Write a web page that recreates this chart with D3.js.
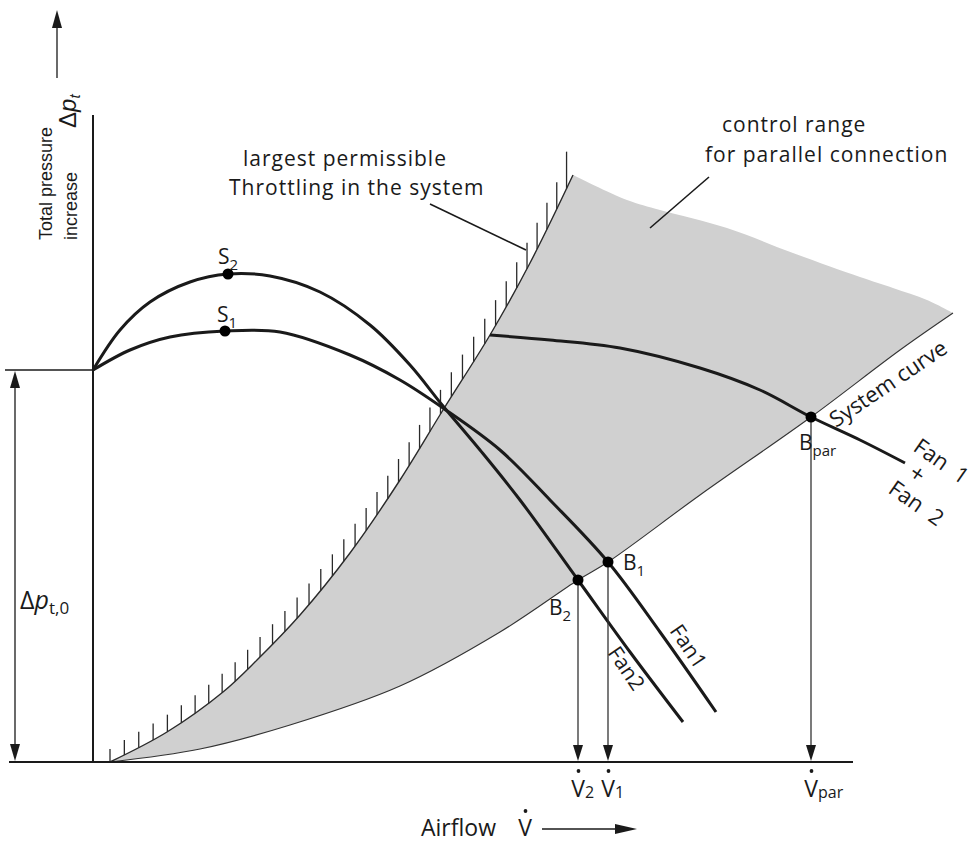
<!DOCTYPE html>
<html><head><meta charset="utf-8">
<script src="https://cdn.jsdelivr.net/npm/d3@7"></script>
<style>html,body{margin:0;padding:0;background:#fff}svg{display:block}</style>
</head><body>
<svg id="chart" width="980" height="842"></svg>
<script>
// ---- data (relative units: flow on x, pressure on y) ----
const fan1 = [[0,39.2],[3.7,41.2],[7.7,42.5],[13.2,43.1],[18.7,43.0],[25.7,40.7],[30.7,38.2],[35.0,35.4],[40.7,31.2],[45.7,26.2],[51.5,20.0],[56.7,13.0],[62.3,5.0]];
const fan2 = [[0,39.2],[2.7,43.2],[5.7,46.0],[9.7,48.0],[13.5,48.8],[17.7,48.6],[22.7,47.0],[27.7,43.7],[31.7,39.7],[35.0,35.6],[38.7,31.2],[42.7,26.2],[48.5,18.2],[53.7,11.0],[59.0,4.0]];
const fanPar = [[39.7,42.7],[45.7,42.2],[52.7,41.4],[60.7,39.4],[66.7,37.2],[71.8,34.5],[76.7,32.2],[81.2,29.9]];
const systemCurve = [[1.7,0],[10.7,1.3],[19.7,3.7],[30.7,7.6],[40.7,13.0],[48.5,18.2],[51.5,20.0],[60.7,26.7],[71.8,34.5],[80.7,41.2],[86.0,44.9]];
const throttleCurve = [[1.7,0],[7.4,3.0],[13.0,7.0],[16.4,10.2],[20.7,14.7],[25.7,20.9],[30.7,28.2],[35.0,35.2],[39.7,42.7],[43.7,49.9],[48.0,58.7]];
const controlTop = [[48.0,58.7],[53.4,56.2],[56.7,55.2],[63.4,53.4],[70.0,50.9],[76.7,48.5],[80.0,47.4],[83.4,46.2],[86.0,44.9]];
const surgePoints = [{name:"S",sub:"2",x:13.5,y:48.8,dx:-10,dy:-10},{name:"S",sub:"1",x:13.2,y:43.1,dx:-8,dy:-9}];
const opPoints = [{name:"B",sub:"1",x:51.5,y:20.0,dx:15,dy:8,v:"1"},{name:"B",sub:"2",x:48.5,y:18.2,dx:-29,dy:35,v:"2"},{name:"B",sub:"par",x:71.8,y:34.5,dx:-12,dy:33,v:"par"}];
const shutoffPressure = 39.2;

const svg = d3.select("#chart");
const x = d3.scaleLinear().domain([0, 88]).range([93, 973]);
const y = d3.scaleLinear().domain([0, 70]).range([762, 62]);
const FONT = "'Open Sans', 'Noto Sans', sans-serif";
const INK = "#1a1a1a";

const line = d3.line().x(d => x(d[0])).y(d => y(d[1])).curve(d3.curveCatmullRom.alpha(0.5));

function arrowHead(tx, ty, dx, dy, len, hw) {
  const bx = tx - dx * len, by = ty - dy * len, px = -dy, py = dx;
  svg.append("path").attr("d", `M${tx},${ty}L${bx + px * hw},${by + py * hw}L${bx - px * hw},${by - py * hw}Z`).attr("fill", INK);
}

// ---- shaded control range ----
const segA = line(throttleCurve);
const segB = line(controlTop).replace(/^M/, "L");
const segC = line(systemCurve.slice().reverse()).replace(/^M/, "L");
svg.append("path").attr("d", segA + segB + segC + "Z").attr("fill", "#d0d0d0").attr("stroke", "none");

// system curve edge
svg.append("path").attr("d", line(systemCurve)).attr("fill", "none").attr("stroke", "#333").attr("stroke-width", 1.1);

// throttle curve + hatches
const thr = svg.append("path").attr("d", line(throttleCurve)).attr("fill", "none").attr("stroke", "#2a2a2a").attr("stroke-width", 1.4);
const tn = thr.node(), L = tn.getTotalLength();
const hatch = svg.append("g").attr("stroke", "#2a2a2a").attr("stroke-width", 1.3);
for (let s = 0; s <= L; ) {
  const p = tn.getPointAtLength(s);
  const f = s / L;
  const len = 13 + 14 * Math.sqrt(f) + (f > 0.97 ? 10 : 0);
  hatch.append("line").attr("x1", p.x).attr("y1", p.y).attr("x2", p.x).attr("y2", p.y - len);
  s += 16 + 7 * f;
}

// ---- axes ----
const axis = svg.append("g").attr("stroke", INK).attr("stroke-width", 2).attr("fill", "none");
axis.append("line").attr("x1", x(0)).attr("x2", x(0)).attr("y1", y(0)).attr("y2", 115);
axis.append("line").attr("x1", 9).attr("x2", 853).attr("y1", y(0)).attr("y2", y(0));
axis.append("line").attr("x1", 5).attr("x2", x(0)).attr("y1", y(shutoffPressure)).attr("y2", y(shutoffPressure)).attr("stroke-width", 1.5);
axis.append("line").attr("x1", 15).attr("x2", 15).attr("y1", y(shutoffPressure) + 12).attr("y2", y(0) - 12).attr("stroke-width", 1.3);
arrowHead(15, y(shutoffPressure) + 1, 0, -1, 17, 5);
arrowHead(15, y(0) - 1, 0, 1, 17, 5);
axis.append("line").attr("x1", 57).attr("x2", 57).attr("y1", 78).attr("y2", 24).attr("stroke-width", 1.3);
arrowHead(57, 10, 0, -1, 18, 5);
axis.append("line").attr("x1", 542).attr("x2", 624).attr("y1", 829).attr("y2", 829).attr("stroke-width", 1.3);
arrowHead(637, 829, 1, 0, 22, 5);

// ---- fan curves ----
const curves = svg.append("g").attr("fill", "none").attr("stroke", INK).attr("stroke-width", 3);
curves.append("path").attr("d", line(fan1));
curves.append("path").attr("d", line(fan2));
curves.append("path").attr("d", line(fanPar));

// ---- drop lines to the flow axis ----
opPoints.forEach(p => {
  svg.append("line").attr("x1", x(p.x)).attr("x2", x(p.x)).attr("y1", y(p.y)).attr("y2", y(0) - 12).attr("stroke", "#333").attr("stroke-width", 1.3);
  arrowHead(x(p.x), y(0) - 1, 0, 1, 16, 5);
});

// ---- points & labels ----
function subLabel(px, py, main, sub, size, subSize, subDy) {
  const t = svg.append("text").attr("x", px).attr("y", py).attr("font-family", FONT).attr("font-size", size).attr("fill", INK);
  t.append("tspan").text(main);
  t.append("tspan").attr("font-size", subSize).attr("dy", subDy).text(sub);
  return t;
}
surgePoints.concat(opPoints).forEach(p => {
  svg.append("circle").attr("cx", x(p.x)).attr("cy", y(p.y)).attr("r", 5.5).attr("fill", "#000");
  subLabel(x(p.x) + p.dx, y(p.y) + p.dy, p.name, p.sub, 21, 15, 6);
});
opPoints.forEach(p => {
  const cx = x(p.x);
  svg.append("text").attr("x", cx).attr("y", 797).attr("text-anchor", "middle").attr("font-family", FONT).attr("font-size", 23).attr("fill", INK).text("V");
  svg.append("circle").attr("cx", cx + 0.5).attr("cy", 771).attr("r", 1.9).attr("fill", INK);
  svg.append("text").attr("x", cx + 7).attr("y", 798).attr("font-family", FONT).attr("font-size", 16).attr("fill", INK).text(p.v);
});

// ---- axis titles ----
svg.append("text").attr("x", 421).attr("y", 836).attr("font-family", FONT).attr("font-size", 23).attr("fill", INK).text("Airflow");
svg.append("text").attr("x", 525).attr("y", 836).attr("text-anchor", "middle").attr("font-family", FONT).attr("font-size", 23).attr("fill", INK).text("V");
svg.append("circle").attr("cx", 525.5).attr("cy", 811).attr("r", 1.9).attr("fill", INK);

const yl = "'Liberation Sans Narrow', 'Liberation Sans', Arial, sans-serif";
svg.append("text").attr("transform", "translate(52,240) rotate(-90)").attr("font-family", yl).attr("font-size", 18).attr("fill", INK).text("Total pressure");
svg.append("text").attr("transform", "translate(77,240) rotate(-90)").attr("font-family", yl).attr("font-size", 18).attr("fill", INK).text("increase");
const dpt = svg.append("text").attr("transform", "translate(76,128) rotate(-90)").attr("font-family", "'Liberation Sans', Arial, sans-serif").attr("font-size", 24).attr("fill", INK);
dpt.append("tspan").text("Δ");
dpt.append("tspan").attr("font-style", "italic").text("p");
dpt.append("tspan").attr("font-style", "italic").attr("font-size", 15).attr("dy", 4).text("t");

const dp0 = svg.append("text").attr("x", 20).attr("y", 609).attr("font-family", FONT).attr("font-size", 25).attr("fill", INK);
dp0.append("tspan").text("Δ");
dp0.append("tspan").attr("font-style", "italic").text("p");
dp0.append("tspan").attr("font-size", 17).attr("dy", 5).text("t,0");

// ---- annotations ----
function txt(xp, yp, s, size, ls) {
  return svg.append("text").attr("x", xp).attr("y", yp).attr("font-family", FONT).attr("font-size", size).attr("letter-spacing", ls || 0).attr("fill", INK).style("white-space", "pre").text(s);
}
txt(243, 166, "largest permissible", 21, 1);
txt(229, 195, "Throttling in the system", 21, 1);
svg.append("line").attr("x1", 430).attr("y1", 204).attr("x2", 526).attr("y2", 250).attr("stroke", INK).attr("stroke-width", 1.6);
txt(722, 132, "control range", 21, 1);
txt(705, 162, "for parallel connection", 21, 1);
svg.append("line").attr("x1", 650).attr("y1", 228).attr("x2", 709).attr("y2", 177).attr("stroke", INK).attr("stroke-width", 1.6);

svg.append("text").attr("transform", "translate(836,428) rotate(-34)").attr("font-family", FONT).attr("font-size", 22).attr("fill", INK).text("System curve");
svg.append("text").attr("transform", "translate(912,450) rotate(35)").attr("font-family", FONT).attr("font-size", 22).attr("fill", INK).style("white-space", "pre").text("Fan  1");
svg.append("text").attr("transform", "translate(918,473) rotate(35)").attr("text-anchor", "middle").attr("dominant-baseline", "central").attr("font-family", FONT).attr("font-size", 24).attr("fill", INK).text("+");
svg.append("text").attr("transform", "translate(887,492) rotate(35)").attr("font-family", FONT).attr("font-size", 22).attr("fill", INK).style("white-space", "pre").text("Fan  2");
svg.append("text").attr("transform", "translate(689,646) rotate(56)").attr("text-anchor", "middle").attr("dominant-baseline", "central").attr("font-family", FONT).attr("font-size", 21).attr("fill", INK).text("Fan1");
svg.append("text").attr("transform", "translate(627,668) rotate(56)").attr("text-anchor", "middle").attr("dominant-baseline", "central").attr("font-family", FONT).attr("font-size", 21).attr("fill", INK).text("Fan2");
</script>
</body></html>
